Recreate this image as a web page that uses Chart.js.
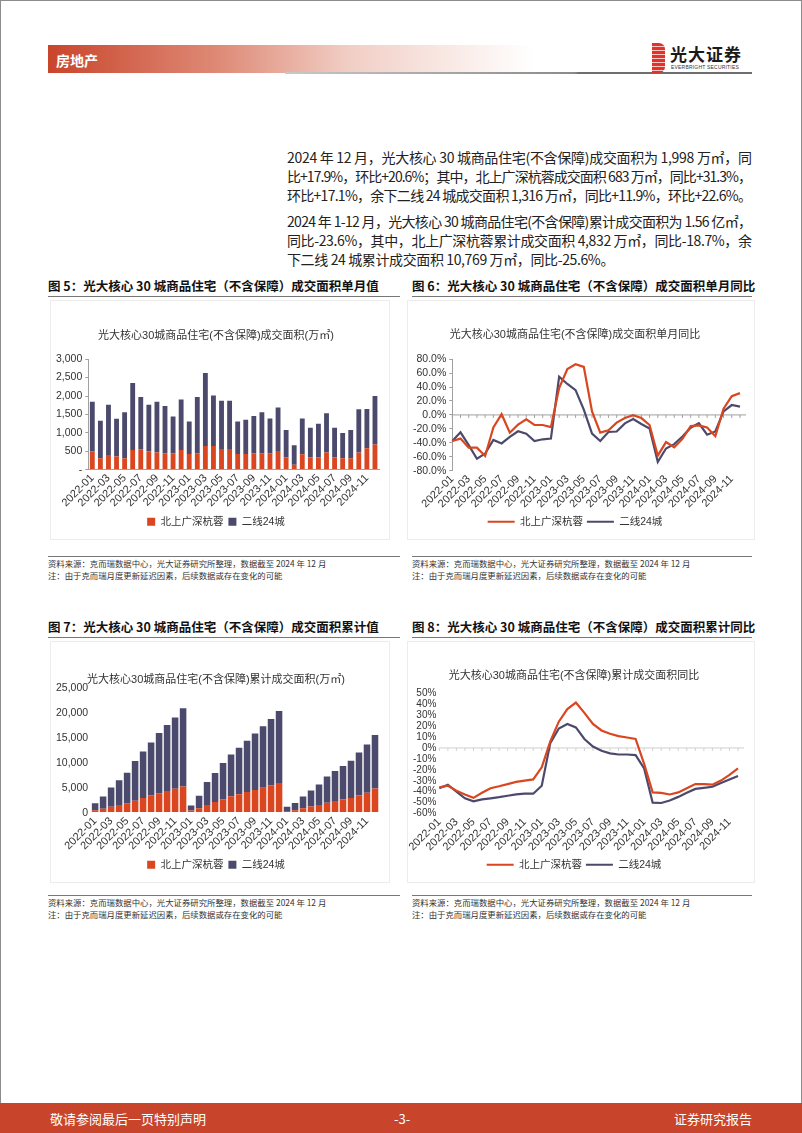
<!DOCTYPE html>
<html lang="zh-CN">
<head>
<meta charset="UTF-8">
<title>光大核心30城商品住宅成交面积</title>
<script src="https://cdn.jsdelivr.net/npm/chart.js"></script>
<style>
  html, body { margin: 0; padding: 0; }
  body { width: 802px; height: 1133px; position: relative; background: #fff; overflow: hidden;
         font-family: "Noto Sans CJK SC", sans-serif; color: #222; }
  .abs { position: absolute; }
  .frame { left: 0; top: 0; width: 800px; height: 1131px; border: 1px solid #8c8c8c; }
  .band { left: 48px; top: 45px; width: 485px; height: 28px;
          background: linear-gradient(to right, #c9452c 0%, #de8a76 35%, #f1cec5 62%, #fff 100%); }
  .band span { position: absolute; left: 8px; top: 5px; color: #fff; font-weight: bold; font-size: 14px; }
  .hline { left: 285px; top: 72px; width: 467px; height: 2px; background: linear-gradient(to right, #c8c8c8, #8a8a8a 62%, #6e6e6e 63%, #6e6e6e); }
  .logo-icon { left: 652px; top: 43px; width: 13px; height: 30px; border-radius: 0 6px 6px 0;
               background: repeating-linear-gradient(to bottom, #e3322c 0 3px, #f7c9c4 3px 4px); }
  .logo-cn { left: 670px; top: 41px; font-size: 17px; font-weight: bold; color: #1a1a1a; letter-spacing: 1px; }
  .logo-en { left: 671px; top: 64px; font-size: 5px; color: #333; font-family: "Liberation Sans", sans-serif; letter-spacing: 0.2px; }
  .para { left: 287px; width: 465px; font-size: 14px; line-height: 19px; color: #222; }
  .para div { white-space: nowrap; }
  .fig-title { font-size: 12.5px; font-weight: bold; color: #111; white-space: nowrap; }
  .rule { height: 1px; background: #777; }
  .note { font-size: 8.4px; line-height: 12px; color: #333; white-space: nowrap; }
  .box { border: 1px solid #ececec; }
  .footer { left: 0; top: 1103px; width: 802px; height: 30px; background: #c8442a; color: #fff; font-size: 13px; }
  .footer span { position: absolute; top: 6px; }
</style>
</head>
<body>
<div class="abs frame"></div>

<div class="abs band"><span>房地产</span></div>
<div class="abs hline"></div>
<div class="abs logo-icon"></div>
<div class="abs logo-cn">光大证券</div>
<div class="abs logo-en">EVERBRIGHT SECURITIES</div>

<div class="abs para" style="top:148px">
  <div class="fit">2024 年 12 月，光大核心 30 城商品住宅(不含保障)成交面积为 1,998 万㎡，同</div>
  <div class="fit">比+17.9%，环比+20.6%；其中，北上广深杭蓉成交面积 683 万㎡，同比+31.3%，</div>
  <div class="fit">环比+17.1%，余下二线 24 城成交面积 1,316 万㎡，同比+11.9%，环比+22.6%。</div>
</div>
<div class="abs para" style="top:212px">
  <div class="fit">2024 年 1-12 月，光大核心 30 城商品住宅(不含保障)累计成交面积为 1.56 亿㎡，</div>
  <div class="fit">同比-23.6%，其中，北上广深杭蓉累计成交面积 4,832 万㎡，同比-18.7%，余</div>
  <div class="last">下二线 24 城累计成交面积 10,769 万㎡，同比-25.6%。</div>
</div>

<div class="abs fig-title" style="left:48px;top:276px">图 5：光大核心 30 城商品住宅（不含保障）成交面积单月值</div>
<div class="abs fig-title" style="left:412px;top:276px">图 6：光大核心 30 城商品住宅（不含保障）成交面积单月同比</div>
<div class="abs rule" style="left:48px;top:296px;width:352px"></div>
<div class="abs rule" style="left:412px;top:296px;width:340px"></div>

<div class="abs box" style="left:50px;top:300px;width:338px;height:238px"></div>
<div class="abs box" style="left:407px;top:300px;width:346px;height:238px"></div>
<canvas id="c1" class="abs" style="left:51px;top:301px" width="336" height="236"></canvas>
<canvas id="c2" class="abs" style="left:408px;top:301px" width="344" height="236"></canvas>

<div class="abs rule" style="left:48px;top:556px;width:352px"></div>
<div class="abs rule" style="left:412px;top:556px;width:340px"></div>
<div class="abs note" style="left:48px;top:557px">资料来源：克而瑞数据中心，光大证券研究所整理，数据截至 2024 年 12 月<br>注：由于克而瑞月度更新延迟因素，后续数据或存在变化的可能</div>
<div class="abs note" style="left:412px;top:557px">资料来源：克而瑞数据中心，光大证券研究所整理，数据截至 2024 年 12 月<br>注：由于克而瑞月度更新延迟因素，后续数据或存在变化的可能</div>

<div class="abs fig-title" style="left:48px;top:617px">图 7：光大核心 30 城商品住宅（不含保障）成交面积累计值</div>
<div class="abs fig-title" style="left:412px;top:617px">图 8：光大核心 30 城商品住宅（不含保障）成交面积累计同比</div>
<div class="abs rule" style="left:48px;top:637px;width:352px"></div>
<div class="abs rule" style="left:412px;top:637px;width:340px"></div>

<div class="abs box" style="left:50px;top:641px;width:338px;height:240px"></div>
<div class="abs box" style="left:407px;top:641px;width:346px;height:240px"></div>
<canvas id="c3" class="abs" style="left:51px;top:642px" width="336" height="238"></canvas>
<canvas id="c4" class="abs" style="left:408px;top:642px" width="344" height="238"></canvas>

<div class="abs rule" style="left:48px;top:895px;width:352px"></div>
<div class="abs rule" style="left:412px;top:895px;width:340px"></div>
<div class="abs note" style="left:48px;top:896px">资料来源：克而瑞数据中心，光大证券研究所整理，数据截至 2024 年 12 月<br>注：由于克而瑞月度更新延迟因素，后续数据或存在变化的可能</div>
<div class="abs note" style="left:412px;top:896px">资料来源：克而瑞数据中心，光大证券研究所整理，数据截至 2024 年 12 月<br>注：由于克而瑞月度更新延迟因素，后续数据或存在变化的可能</div>

<div class="abs footer">
  <span style="left:50px">敬请参阅最后一页特别声明</span>
  <span style="left:394px">-3-</span>
  <span style="left:674px">证券研究报告</span>
</div>

<script>
// months on the x axis
const months = ['2022-01','2022-02','2022-03','2022-04','2022-05','2022-06','2022-07','2022-08','2022-09','2022-10','2022-11','2022-12',
                '2023-01','2023-02','2023-03','2023-04','2023-05','2023-06','2023-07','2023-08','2023-09','2023-10','2023-11','2023-12',
                '2024-01','2024-02','2024-03','2024-04','2024-05','2024-06','2024-07','2024-08','2024-09','2024-10','2024-11','2024-12'];
const seriesNames = ['北上广深杭蓉', '二线24城'];

// 单月成交面积 (万㎡)
const tier1Monthly = [490,312,400,356,312,534,552,490,463,445,445,534,
                      427,445,641,641,561,561,427,427,445,445,445,507,
                      329,134,418,329,329,463,329,312,312,463,579,683];
const tier2Monthly = [1353,1014,1363,1024,1246,1816,1424,1273,1380,1282,997,1371,
                      882,1531,1985,1371,1308,1308,882,926,1015,1113,944,1184,
                      748,525,971,810,917,1068,810,685,765,1175,1068,1316];

// 单月同比 (%)
const tier1MonthlyYoY = [-37.5,-34,-47,-47,-59,-18,1,-25.5,-14,-6.5,-14.5,-14.5,
                         -17.5,38.5,66,72.8,69,5,-25.5,-22,-11,-4.5,-0.5,-4.5,
                         -14.5,-58.5,-39,-46.5,-34.5,-16,-15,-18,-30.5,9,27,31.3];
const tier2MonthlyYoY = [-37.5,-25,-43.5,-63,-55.5,-36,-41,-31.5,-23.5,-27,-37.5,-35,
                         -34,54.8,44.4,35.5,7.5,-26.8,-37.5,-24.5,-23.8,-12.2,-5.8,-13,
                         -19.4,-67.5,-48.3,-42,-31,-18.4,-12,-28.5,-23.8,5,14.2,11.9];

// 累计成交面积 (万㎡)
const tier1Cum = [480,800,1200,1550,1870,2400,2950,3440,3900,4350,4800,5250,
                  430,870,1510,2150,2710,3270,3700,4130,4570,5020,5460,5950,
                  330,460,880,1210,1540,2000,2330,2640,2960,3420,4000,4832];
const tier2Cum = [1390,2450,3840,4940,6140,7960,9340,10650,12120,13260,14330,15740,
                  1020,2510,4640,5790,7240,8400,9350,10300,11310,12310,13330,14490,
                  840,1470,2370,3210,4120,5250,6030,6750,7470,8670,9670,10769];

// 累计同比 (%)
const tier1CumYoY = [-36,-34.5,-39,-42.5,-45.6,-41,-36.8,-35,-33,-31,-29.8,-28.8,
                     -17.7,6,24,35.5,41.5,32,21.9,16,13,10.8,9.5,8.2,
                     -14.5,-40.6,-41,-42.5,-40.6,-36.8,-33,-33,-33.6,-29.8,-24.7,-18.7];
const tier2CumYoY = [-36.8,-33.6,-40,-46,-48.8,-47,-46,-45,-43.7,-42.5,-41.8,-41.8,
                     -34.5,4.4,17.7,21.9,18.7,8.2,1.3,-2.5,-5,-6,-6,-6.6,
                     -18.7,-50,-50.3,-48,-44.7,-41,-37.4,-36.5,-35.5,-32,-28.8,-25.6];

const RED = '#d9461f';
const PURPLE = '#4b4a6d';

Chart.defaults.font.family = '"Liberation Sans", "Noto Sans CJK SC", sans-serif';
Chart.defaults.color = '#333';
Chart.defaults.animation = false;

// label only every other month, like the original
const oddMonthTick = function (value, index) {
    return index % 2 === 0 ? this.getLabelForValue(value) : '';
};
const xTicks = { autoSkip: false, minRotation: 45, maxRotation: 45, callback: oddMonthTick, font: { size: 11 }, padding: 2 };

// zero line with small category ticks (line charts)
const zeroAxis = {
    id: 'zeroAxis',
    beforeDatasetsDraw(chart, args, opts) {
        const { ctx, scales: { x, y } } = chart;
        const y0 = y.getPixelForValue(0);
        ctx.save();
        ctx.strokeStyle = opts.color;
        ctx.lineWidth = 1;
        ctx.beginPath();
        ctx.moveTo(x.left, y0);
        ctx.lineTo(x.right + 6, y0);
        x.ticks.forEach((t, i) => {
            const px = x.getPixelForTick(i);
            ctx.moveTo(px, y0);
            ctx.lineTo(px, y0 + 3);
        });
        ctx.stroke();
        ctx.restore();
    }
};

function barChart(id, title, d1, d2, yMax, yStep, yFmt, opts) {
    return new Chart(document.getElementById(id), {
        type: 'bar',
        data: {
            labels: months,
            datasets: [
                { label: seriesNames[0], data: d1, backgroundColor: RED, barPercentage: opts.bar, categoryPercentage: 1 },
                { label: seriesNames[1], data: d2, backgroundColor: PURPLE, barPercentage: opts.bar, categoryPercentage: 1 }
            ]
        },
        options: {
            responsive: false,
            layout: { padding: opts.padding },
            plugins: {
                title: { display: true, text: title, font: { size: 11, weight: 'normal' }, color: '#333', padding: opts.titlePad },
                legend: { position: 'bottom', labels: { boxWidth: 8, boxHeight: 8, font: { size: 10.5 }, padding: 5 } },
                tooltip: { enabled: false }
            },
            scales: {
                x: { stacked: true, grid: { display: false, drawTicks: false }, border: { display: opts.axisLine, color: '#a0a0a0' }, ticks: xTicks },
                y: {
                    stacked: true, min: 0, max: yMax,
                    ticks: { stepSize: yStep, autoSkip: false, callback: yFmt, font: { size: 10.5 }, padding: 3 },
                    grid: { drawOnChartArea: false, drawTicks: opts.axisLine, tickLength: 3, color: '#a0a0a0' },
                    border: { display: opts.axisLine, color: '#a0a0a0' }
                }
            }
        }
    });
}

function lineChart(id, title, d1, d2, yMin, yMax, yStep, yFmt, opts) {
    return new Chart(document.getElementById(id), {
        type: 'line',
        data: {
            labels: months,
            datasets: [
                { label: seriesNames[0], data: d1, borderColor: RED, backgroundColor: RED, borderWidth: 2.2, pointRadius: 0, tension: 0 },
                { label: seriesNames[1], data: d2, borderColor: PURPLE, backgroundColor: PURPLE, borderWidth: 2.2, pointRadius: 0, tension: 0 }
            ]
        },
        plugins: [zeroAxis],
        options: {
            responsive: false,
            layout: { padding: opts.padding },
            plugins: {
                title: { display: true, text: title, font: { size: 11, weight: 'normal' }, color: '#333', padding: opts.titlePad },
                legend: { position: 'bottom', labels: { usePointStyle: true, pointStyle: 'line', pointStyleWidth: 27, font: { size: 10.5 }, padding: 4 } },
                tooltip: { enabled: false },
                zeroAxis: { color: opts.zeroColor }
            },
            scales: {
                x: { grid: { display: false, drawTicks: false }, border: { display: false }, ticks: xTicks },
                y: {
                    min: yMin, max: yMax,
                    ticks: { stepSize: yStep, autoSkip: false, callback: yFmt, font: { size: opts.yFont }, padding: 3 },
                    grid: { drawOnChartArea: false, drawTicks: opts.axisLine, tickLength: 3, color: '#a0a0a0' },
                    border: { display: opts.axisLine, color: '#a0a0a0' }
                }
            }
        }
    });
}

const thousands = v => v.toLocaleString('en-US');

barChart('c1', '光大核心30城商品住宅(不含保障)成交面积(万㎡)', tier1Monthly, tier2Monthly, 3000, 500,
    v => v === 0 ? '-' : thousands(v),
    { bar: 0.6, axisLine: true, padding: { left: 2, right: 8, bottom: 0 }, titlePad: { top: 28, bottom: 17 } });

lineChart('c2', '光大核心30城商品住宅(不含保障)成交面积单月同比', tier1MonthlyYoY, tier2MonthlyYoY, -80, 80, 20,
    v => v.toFixed(1) + '%',
    { axisLine: true, yFont: 10.5, zeroColor: '#a0a0a0', padding: { left: 2, right: 12, bottom: 0 }, titlePad: { top: 27, bottom: 18 } });

barChart('c3', '光大核心30城商品住宅(不含保障)累计成交面积(万㎡)', tier1Cum, tier2Cum, 25000, 5000,
    v => thousands(v),
    { bar: 0.82, axisLine: false, padding: { left: 2, right: 8, bottom: 0 }, titlePad: { top: 31, bottom: 2 } });

lineChart('c4', '光大核心30城商品住宅(不含保障)累计成交面积同比', tier1CumYoY, tier2CumYoY, -60, 50, 10,
    v => v + '%',
    { axisLine: false, yFont: 10, zeroColor: '#d0d0d0', padding: { left: 2, right: 14, bottom: 0 }, titlePad: { top: 27, bottom: 11 } });

// stretch paragraph lines to the column width
document.fonts.ready.then(() => {
    const target = 465;
    let last = 0;
    document.querySelectorAll('.para div').forEach(el => {
        const span = document.createElement('span');
        span.textContent = el.textContent;
        el.textContent = '';
        el.appendChild(span);
        const n = span.textContent.length;
        if (el.classList.contains('fit')) {
            last = (target - span.getBoundingClientRect().width) / (n - 1);
        }
        span.style.letterSpacing = last + 'px';
    });
});
</script>
</body>
</html>
